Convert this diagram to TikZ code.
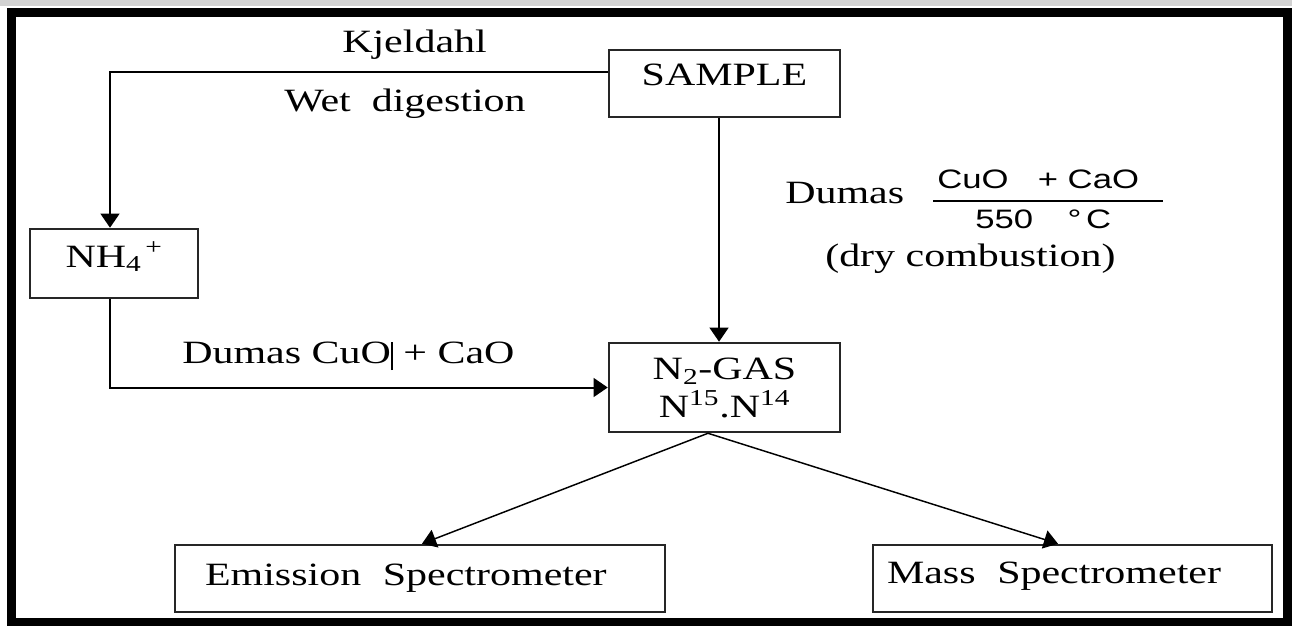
\documentclass[tikz,border=0pt]{standalone}
\usepackage{fontspec}
\setmainfont{Liberation Serif}[FakeStretch=1.29]
\newfontfamily\arialx{Liberation Sans}[FakeStretch=1.3]
\usetikzlibrary{arrows.meta}
\newcommand\mainsize{\fontsize{24.4pt}{28.5pt}\selectfont}
\newcommand\sansx{\arialx\fontsize{20pt}{23pt}\selectfont}
\begin{document}
\begin{tikzpicture}[x=0.75pt,y=-0.75pt,
  box/.style={draw=black!85, line width=1.9pt, rectangle, inner sep=0pt, font=\mainsize},
  conn/.style={line width=1.5pt},
  thinconn/.style={line width=1.1pt},
  arr/.style={-{Triangle[length=10.5pt,width=14pt]}},
  lbl/.style={inner sep=0pt, font=\mainsize}]
\useasboundingbox (0,0) rectangle (1292,625);
\fill[gray!35] (0,0) rectangle (1292,6);
\draw[line width=6.75pt] (11,12.5) rectangle (1287,622);

% boxes
\node[box, minimum width=173.25pt, minimum height=50.25pt, text height=16pt, text depth=13.75pt] (sample) at (724.5,83.5) {SAMPLE};
\node[box, minimum width=126pt, minimum height=51.75pt, text height=16pt, text depth=10.75pt] (nh4) at (114,263.5) {NH\textsubscript{4}\textsuperscript{\,+}};
\node[box, minimum width=173.25pt, minimum height=66.75pt, align=center] (n2) at (724.5,387.5) {N\textsubscript{2}-GAS\\N\textsuperscript{15}.N\textsuperscript{14}};
\node[box, text width=322.5pt, inner xsep=22.5pt, minimum height=50.25pt, align=left, text height=16pt, text depth=6.25pt] (em) at (420,578.5) {Emission\ \ Spectrometer};
\node[box, text width=278.25pt, inner xsep=10.5pt, minimum height=50.25pt, align=left, text height=16pt, text depth=9.25pt] (ms) at (1072.5,578.5) {Mass\ \ Spectrometer};

% labels
\node[lbl, anchor=base west] (kj) at (342,52) {Kjeldahl};
\node[lbl, anchor=base west] (wet) at (284,111) {Wet\ \ digestion};
\node[lbl, anchor=base west] (dumasa) at (182,363) {Dumas CuO\rule[-5.25pt]{1.5pt}{21pt}\ + CaO};
\node[lbl, anchor=base west] (dumasb) at (785,203) {Dumas};
\node[lbl, anchor=base west, font=\sansx] (fracnum) at (937,188) {CuO\hspace{22pt}+ CaO};
\node[lbl, anchor=base west, font=\sansx] (fracden) at (975,228) {550\hspace{26pt}°\,C};
\coordinate (barl) at (933,201);
\coordinate (barr) at (1163,201);
\draw[line width=1.4pt] (barl) -- (barr);
\node[lbl, anchor=base west] (dry) at (825,266) {(dry combustion)};

% connectors
\draw[conn, arr] ([yshift=8.6pt]sample.west) -| ([xshift=-3pt]nh4.north);
\draw[conn, arr] ([xshift=-4.1pt]sample.south) -- ([xshift=-4.1pt]n2.north);
\draw[conn, arr] ([xshift=-3pt]nh4.south) |- (n2.west);
\draw[thinconn, arr] ([xshift=-12.4pt]n2.south) -- ([xshift=1.5pt]em.north);
\draw[thinconn, arr] ([xshift=-12.4pt]n2.south) -- ([xshift=-10.9pt]ms.north);
\end{tikzpicture}
\end{document}
